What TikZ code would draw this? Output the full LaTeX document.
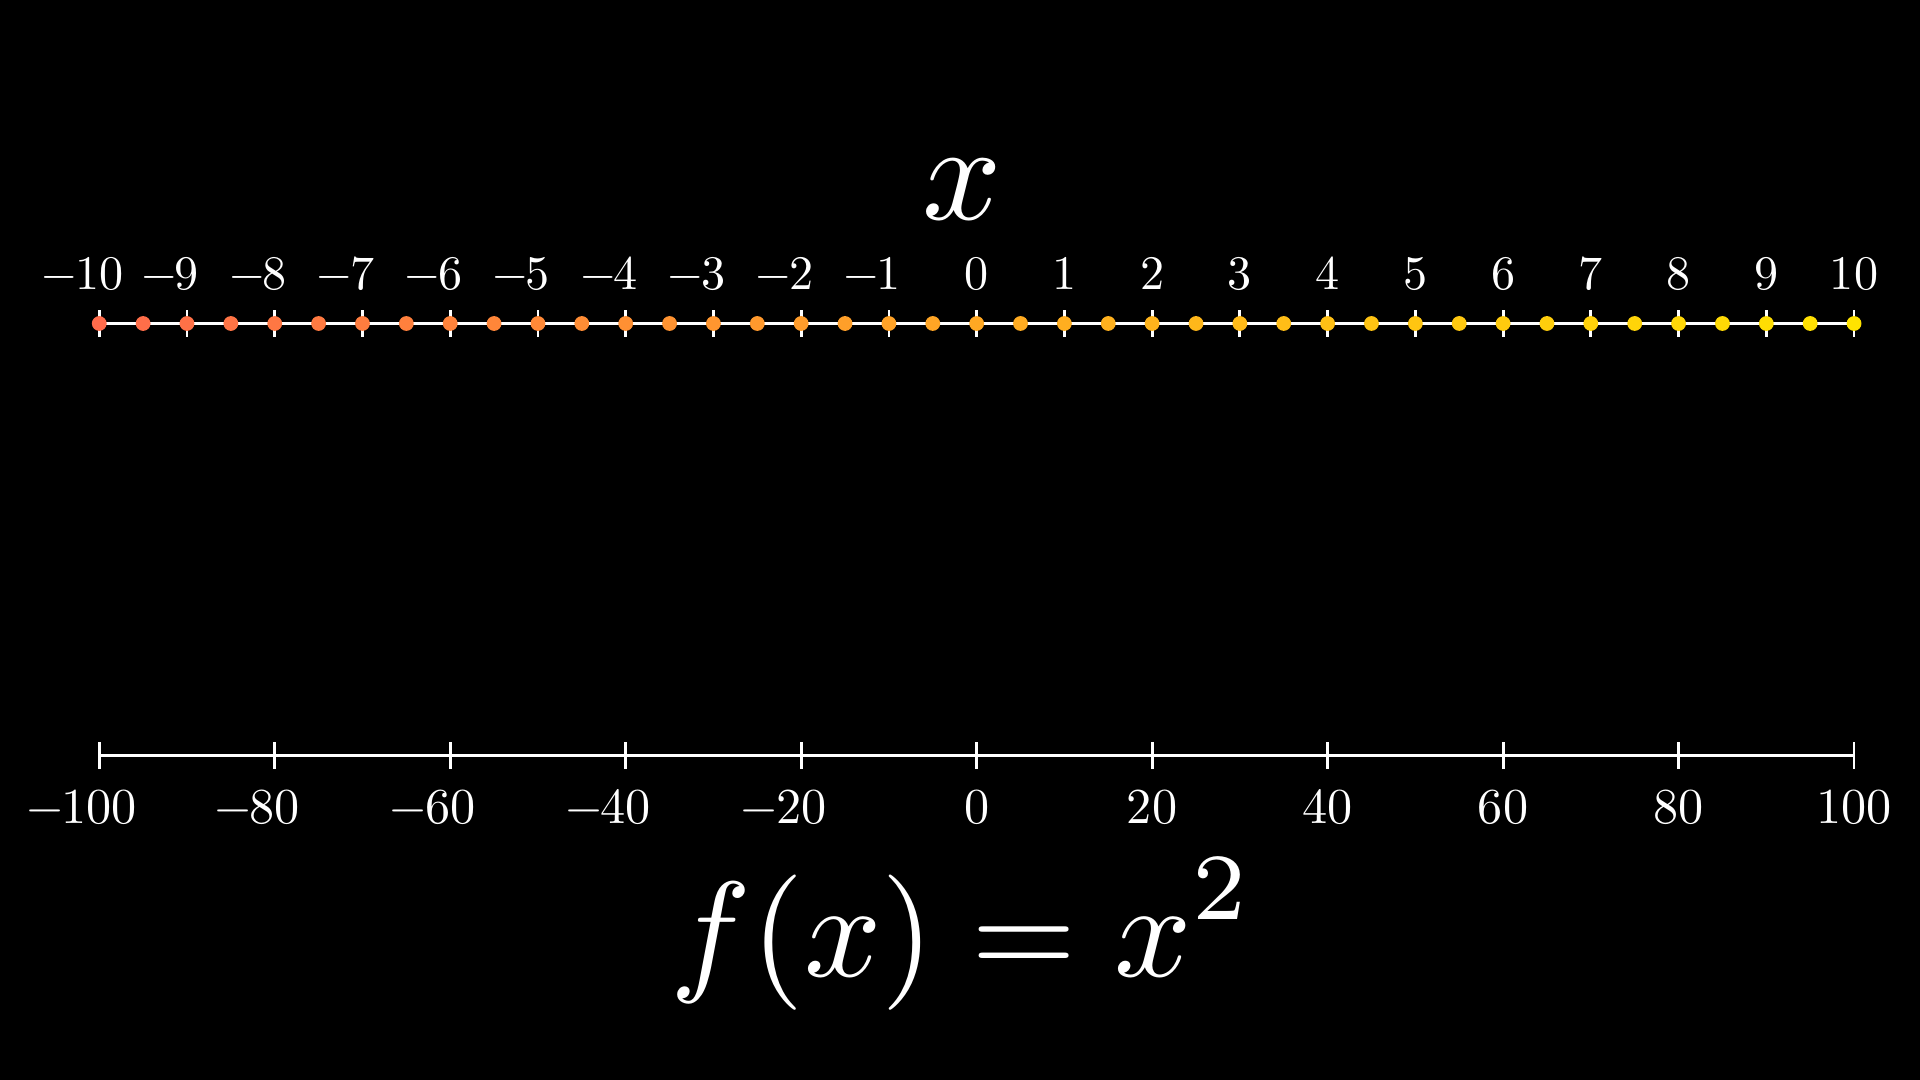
\documentclass[tikz,border=0pt]{standalone}
\definecolor{cL}{HTML}{FF6B4B}
\definecolor{cM}{HTML}{FFA823}
\definecolor{cR}{HTML}{FFE300}
\tikzset{
  axisline/.style={white, line width=0.8pt},
  dotnode/.style={circle, inner sep=0pt, minimum size=0.148cm, fill=#1},
  toplab/.style={text=white, anchor=base, inner sep=0pt, scale=1.37},
  botlab/.style={text=white, anchor=base, inner sep=0pt, scale=1.43},
  biglab/.style={text=white, anchor=base, inner sep=0pt, scale=#1}
}
\begin{document}
\begin{tikzpicture}[x=0.01cm,y=-0.01cm]
\fill[black] (0,0) rectangle (1920,1080);
\useasboundingbox (0,0) rectangle (1920,1080);

% top axis (x)
\coordinate (topL) at (99.3,323.5);
\coordinate (topR) at (1854,323.5);
\draw[axisline] (topL) -- (topR);
\foreach \k in {-10,...,10}{
  \draw[axisline] (976.65+87.74*\k,310.5) -- ++(0,26.5);
  \pgfmathtruncatemacro\a{abs(\k)}
  \node[toplab] (tlab\a\ifnum\k<0 n\fi) at (976.65+87.74*\k,289.5) {\ifnum\k<0\llap{$-$\kern-0.06em}\fi\a};
}
\foreach \i in {0,...,40}{
  \ifnum\i<21
    \pgfmathtruncatemacro\p{100*(20-\i)/20}
    \colorlet{dotc}{cL!\p!cM}
  \else
    \pgfmathtruncatemacro\p{100*(40-\i)/20}
    \colorlet{dotc}{cM!\p!cR}
  \fi
  \node[dotnode=dotc] (dot\i) at (976.65+87.74*\i/2-877.4,323.5) {};
}
\node[biglab=3.95] (xlab) at (962,220) {$x$};

% bottom axis (f(x))
\coordinate (botL) at (99.3,755.7);
\coordinate (botR) at (1854,755.7);
\draw[axisline] (botL) -- (botR);
\foreach \k in {-5,...,5}{
  \draw[axisline] (976.65+175.48*\k,742.5) -- ++(0,26.5);
  \pgfmathtruncatemacro\a{abs(\k)*20}
  \node[botlab] (blab\a\ifnum\k<0 n\fi) at (976.65+175.48*\k,824) {\ifnum\k<0\llap{$-$\kern-0.06em}\fi\a};
}
\node[biglab=3.85] (flab) at (962,977) {$f(x)=x^{\raisebox{0.15ex}{$\scriptstyle 2$}}$};
\end{tikzpicture}
\end{document}
